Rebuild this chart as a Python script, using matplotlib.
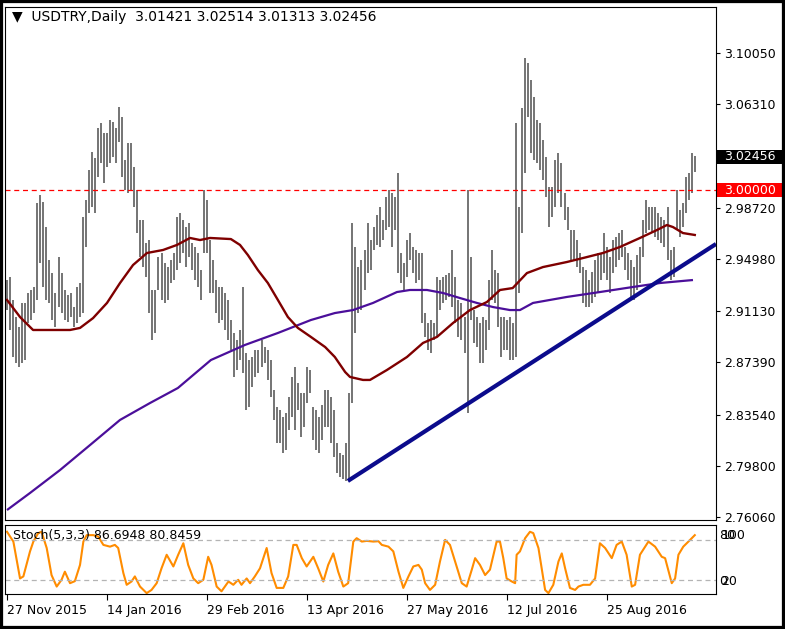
import matplotlib.pyplot as plt
from matplotlib.patches import Rectangle
from matplotlib.transforms import blended_transform_factory

# daily bars (high / low), one per trading day starting 27 Nov 2015
high = [2.9342, 2.9364, 2.9196, 2.9071, 2.8998, 2.9174, 2.9174, 2.9247, 2.9269, 2.9291,
        2.9906, 2.9965, 2.9913, 2.9730, 2.9489, 2.9393, 2.9247, 2.9511, 2.9393, 2.9269,
        2.9232, 2.9247, 2.9144, 2.9291, 2.9320, 2.9803, 2.9928, 3.0148, 3.0280, 3.0236,
        3.0455, 3.0492, 3.0419, 3.0419, 3.0514, 3.0499, 3.0455, 3.0609, 3.0536, 3.0221,
        3.0346, 3.0346, 3.0170, 3.0001, 2.9781, 2.9781, 2.9613, 2.9635, 2.9269, 2.9269,
        2.9511, 2.9540, 2.9467, 2.9437, 2.9489, 2.9540, 2.9803, 2.9833, 2.9781, 2.9730,
        2.9759, 2.9613, 2.9584, 2.9540, 2.9415, 3.0001, 2.9928, 2.9635, 2.9489, 2.9342,
        2.9291, 2.9291, 2.9247, 2.9196, 2.9049, 2.8954, 2.8903, 2.8976, 2.9291, 2.8807,
        2.8756, 2.8778, 2.8829, 2.8829, 2.8903, 2.8851, 2.8829, 2.8756, 2.8536, 2.8412,
        2.8390, 2.8339, 2.8368, 2.8485, 2.8632, 2.8705, 2.8588, 2.8514, 2.8514, 2.8705,
        2.8683, 2.8412, 2.8390, 2.8339, 2.8426, 2.8536, 2.8536, 2.8485, 2.8390, 2.8148,
        2.8075, 2.8060, 2.8148, 2.8514, 2.9759, 2.9584, 2.9437, 2.9489, 2.9562, 2.9759,
        2.9635, 2.9730, 2.9818, 2.9877, 2.9781, 2.9950, 3.0001, 2.9979, 2.9950, 3.0126,
        2.9540, 2.9467, 2.9635, 2.9686, 2.9584, 2.9562, 2.9540, 2.9540, 2.9100, 2.9027,
        2.9049, 2.9027, 2.9364, 2.9342, 2.9364, 2.9379, 2.9393, 2.9562, 2.9364, 2.9196,
        2.9174, 2.9071, 3.0001, 2.9511, 2.9122, 2.9071, 2.9027, 2.9071, 2.9049, 2.9342,
        2.9562, 2.9415, 2.9393, 2.9071, 2.9071, 2.9049, 2.9071, 2.9027, 3.0492, 2.9877,
        3.0602, 3.0968, 3.0932, 3.0807, 3.0682, 3.0514, 3.0492, 3.0368, 3.0243, 3.0023,
        3.0023, 3.0221, 3.0272, 3.0199, 2.9979, 2.9877, 2.9708, 2.9708, 2.9635, 2.9540,
        2.9437, 2.9415, 2.9342, 2.9401, 2.9489, 2.9540, 2.9540, 2.9686, 2.9584, 2.9511,
        2.9635, 2.9657, 2.9686, 2.9708, 2.9584, 2.9540, 2.9489, 2.9437, 2.9525, 2.9584,
        2.9781, 2.9928, 2.9877, 2.9877, 2.9877, 2.9833, 2.9803, 2.9781, 2.9877, 2.9562,
        2.9584, 3.0001, 2.9855, 2.9906, 3.0097, 3.0126, 3.0272, 3.02514]
low = [2.9122, 2.8976, 2.8778, 2.8734, 2.8705, 2.8734, 2.8756, 2.9027, 2.9049, 2.9100,
       2.9196, 2.9467, 2.9291, 2.9196, 2.9174, 2.9049, 2.8998, 2.9144, 2.9100, 2.9049,
       2.9034, 2.9071, 2.8998, 2.9027, 2.9071, 2.9100, 2.9584, 2.9833, 2.9877, 2.9833,
       3.0097, 3.0199, 3.0053, 3.0170, 3.0199, 3.0243, 3.0199, 3.0353, 3.0097, 3.0001,
       2.9979, 3.0001, 2.9877, 2.9686, 2.9511, 2.9437, 2.9364, 2.9100, 2.8903, 2.8954,
       2.9269, 2.9196, 2.9174, 2.9196, 2.9320, 2.9342, 2.9415, 2.9467, 2.9540, 2.9437,
       2.9511, 2.9415, 2.9342, 2.9291, 2.9196, 2.9540, 2.9540, 2.9247, 2.9247, 2.9100,
       2.9027, 2.9049, 2.8976, 2.8903, 2.8829, 2.8632, 2.8683, 2.8756, 2.8661, 2.8390,
       2.8412, 2.8558, 2.8632, 2.8661, 2.8705, 2.8734, 2.8610, 2.8485, 2.8317, 2.8148,
       2.8148, 2.8075, 2.8097, 2.8243, 2.8339, 2.8243, 2.8390, 2.8192, 2.8265, 2.8441,
       2.8514, 2.8170, 2.8097, 2.8075, 2.8170, 2.8265, 2.8265, 2.8148, 2.8046, 2.7928,
       2.7899, 2.7884, 2.7870, 2.7877, 2.8441, 2.8954, 2.9100, 2.9122, 2.9269, 2.9393,
       2.9415, 2.9562, 2.9599, 2.9584, 2.9635, 2.9708, 2.9730, 2.9584, 2.9708, 2.9393,
       2.9320, 2.9269, 2.9364, 2.9489, 2.9393, 2.9320, 2.9342, 2.9027, 2.8925, 2.8829,
       2.8807, 2.8903, 2.8925, 2.9122, 2.9174, 2.9196, 2.9218, 2.9144, 2.9027, 2.8925,
       2.8903, 2.8807, 2.8368, 2.9049, 2.8881, 2.8851, 2.8734, 2.8734, 2.8829, 2.8976,
       2.9196, 2.9174, 2.8998, 2.8778, 2.8829, 2.8829, 2.8756, 2.8756, 2.8778, 2.9247,
       2.9686, 3.0126, 3.0536, 3.0272, 3.0221, 3.0199, 3.0148, 3.0075, 2.9950, 2.9730,
       2.9803, 2.9877, 2.9979, 2.9877, 2.9781, 2.9708, 2.9489, 2.9489, 2.9437, 2.9393,
       2.9174, 2.9144, 2.9144, 2.9174, 2.9218, 2.9247, 2.9342, 2.9393, 2.9342, 2.9247,
       2.9393, 2.9437, 2.9489, 2.9511, 2.9415, 2.9342, 2.9218, 2.9196, 2.9269, 2.9320,
       2.9511, 2.9686, 2.9708, 2.9686, 2.9657, 2.9635, 2.9613, 2.9584, 2.9489, 2.9342,
       2.9364, 2.9708, 2.9657, 2.9730, 2.9833, 2.9928, 2.9979, 3.01313]

# moving averages, read at a few bar positions
ma_fast_bar = [0, 4.3, 8.6, 14.2, 20.8, 24.1, 28.4, 33, 37.3, 41.6, 46.2, 51.5, 56.1, 60.4,
               63.7, 67, 73.9, 76.9, 79.5, 82.8, 86.1, 89.4, 92.7, 96, 100.3, 105, 108.2,
               111.6, 113.2, 117.5, 119.8, 125.4, 132, 137.3, 141.9, 147.2, 152.8, 158.4,
               162.7, 166.9, 171.6, 176.9, 184.8, 190.1, 196.7, 202.3, 208.9, 214.5, 217.8,
               219.8, 223.1, 227]
ma_fast = [2.9196, 2.9071, 2.8976, 2.8976, 2.8976, 2.8991, 2.9063, 2.9174, 2.9320, 2.9452,
           2.9540, 2.9562, 2.9599, 2.9650, 2.9635, 2.9650, 2.9642, 2.9599, 2.9525, 2.9415,
           2.9320, 2.9196, 2.9071, 2.8991, 2.8925, 2.8851, 2.8778, 2.8668, 2.8632, 2.8610,
           2.8610, 2.8683, 2.8778, 2.8881, 2.8925, 2.9027, 2.9122, 2.9181, 2.9269, 2.9283,
           2.9393, 2.9437, 2.9474, 2.9503, 2.9540, 2.9584, 2.9650, 2.9708, 2.9745, 2.9730,
           2.9686, 2.9672]
ma_slow_bar = [0, 7.6, 17.5, 27.4, 37.3, 47.2, 56.4, 67.3, 78.5, 89.4, 100.3, 108.2, 114.2,
               120.8, 128.7, 133, 138.6, 143.9, 149.5, 155.1, 160.4, 166, 169.3, 173.6,
               184.8, 195.7, 206.6, 215.5, 226.4]
ma_slow = [2.7657, 2.7782, 2.7950, 2.8133, 2.8317, 2.8441, 2.8551, 2.8756, 2.8866, 2.8954,
           2.9049, 2.9100, 2.9122, 2.9174, 2.9254, 2.9269, 2.9269, 2.9247, 2.9210, 2.9174,
           2.9144, 2.9122, 2.9122, 2.9174, 2.9218, 2.9254, 2.9291, 2.9320, 2.9342]

# trend line anchors (bar position, price)
trend_bar = [112.5, 234.0]
trend_price = [2.7870, 2.9606]

# stochastic %K
stoch_bar = [0, 2.1, 4.3, 5.4, 7.6, 8.7, 10.3, 11.4, 13.1, 14.7, 16.4, 18.0, 19.1, 20.8,
             22.4, 24.1, 25.2, 26.3, 28.5, 30.1, 31.8, 34.0, 35.6, 36.7, 38.4, 39.5, 41.1,
             42.2, 43.9, 46.1, 47.7, 49.4, 51.0, 52.7, 54.9, 56.5, 58.2, 59.8, 61.5, 63.1,
             64.8, 66.4, 67.5, 69.2, 70.8, 73.1, 74.7, 76.3, 77.4, 79.1, 80.2, 81.8, 83.5,
             85.7, 87.3, 89.0, 91.2, 92.8, 94.5, 95.6, 97.3, 98.9, 101.1, 102.7, 104.4,
             106.0, 107.7, 109.3, 111.0, 112.6, 114.3, 115.4, 117.1, 118.7, 120.9, 122.6,
             123.7, 125.9, 127.5, 129.2, 130.8, 132.5, 134.1, 135.8, 136.9, 138.0, 139.6,
             141.3, 142.9, 144.6, 146.2, 147.9, 150.1, 151.7, 153.4, 154.5, 156.1, 157.8,
             159.4, 161.6, 162.7, 163.8, 164.9, 166.6, 167.7, 168.2, 169.3, 171.0, 172.6,
             173.7, 175.4, 177.6, 178.7, 180.3, 182.0, 183.1, 184.2, 185.8, 187.5, 188.6,
             190.2, 192.4, 194.1, 195.7, 197.4, 199.6, 201.2, 202.9, 204.5, 206.2, 207.3,
             208.9, 211.7, 213.9, 216.1, 217.2, 219.4, 220.5, 221.6, 223.2, 224.9, 227.0]
stoch_val = [92, 77.5, 23, 26, 63, 77.5, 90, 92, 68, 28, 11, 21, 33, 16,
             19, 43, 77.5, 87, 87, 85, 72.6, 70, 72.6, 68, 31, 13.6, 18.5,
             26, 11, 1.3, 6, 16, 38, 58, 40.7, 58, 75, 43, 23, 16,
             21, 55, 43, 11, 4, 18.5, 13.6, 21, 13.6, 23, 16, 26, 38,
             68, 31, 9, 9, 26, 72.6, 72.6, 53, 40.7, 55, 38, 18.5,
             43, 60, 33, 11, 16, 77.5, 82.5, 77.5, 78.5, 77.5, 78,
             72.6, 70, 63, 33, 9, 26, 40.7, 43, 36, 16, 6,
             13.6, 48, 80, 72.6, 48, 16, 11, 36, 53, 43, 28,
             36, 77.5, 77.5, 53, 23, 18.5, 16, 58, 63, 82.5, 92,
             90, 68, 6, 1.3, 13.6, 48, 60, 38, 9, 6, 11,
             13.6, 13.6, 23, 75, 68, 53, 72.6, 77.5, 58, 11, 13.6,
             58, 77.5, 70, 55, 53, 16, 23, 58, 70, 77.5, 87]

tick_bars = [0, 33, 66, 99, 132, 165, 198]
tick_labels = ['27 Nov 2015', '14 Jan 2016', '29 Feb 2016', '13 Apr 2016',
               '27 May 2016', '12 Jul 2016', '25 Aug 2016']
price_ticks = [3.10050, 3.06310, 2.98720, 2.94980, 2.91130, 2.87390, 2.83540, 2.79800, 2.76060]
last_price = 3.02456
level_price = 3.00000

W, H = 785, 629
fig = plt.figure(figsize=(W / 100, H / 100), dpi=100)
fig.patch.set_facecolor('white')
plt.rcParams['font.family'] = 'DejaVu Sans'


def box(l, t, r, b):
    return [l / W, 1 - b / H, (r - l) / W, (b - t) / H]


ax = fig.add_axes(box(5, 7, 716, 520))
ax2 = fig.add_axes(box(5, 525, 716, 594))

xs = list(range(len(high)))
ax.vlines(xs, low, high, color='#5c5c5c', lw=1.2)
ax.plot(ma_slow_bar, ma_slow, color='#4b0f9a', lw=1.6, solid_capstyle='butt')
ax.plot(ma_fast_bar, ma_fast, color='#7f0000', lw=1.7)
ax.plot(trend_bar, trend_price, color='#0b0b8c', lw=3.0, solid_capstyle='butt')
ax.axhline(level_price, color='red', lw=0.9, dashes=(4, 3))

ax.set_xlim(-0.66, 234.0)
ax.set_ylim(2.7584, 3.1342)
ax.set_xticks([])
ax.set_yticks(price_ticks)
ax.set_yticklabels(['%.5f' % p for p in price_ticks])
ax.tick_params(axis='y', left=False, labelleft=False, right=True, labelright=True,
               direction='out', length=3, width=0.8, pad=3, labelsize=9, colors='black')
for s in ax.spines.values():
    s.set_color('black')
    s.set_linewidth(0.8)

# price label boxes on the right scale
tr = blended_transform_factory(ax.transAxes, ax.transData)
for price, fc, w in [(last_price, 'black', 0.1), (level_price, '#ff0000', 0.093)]:
    ax.add_patch(Rectangle((1.001, price - 0.0051), w, 0.0102, transform=tr,
                           fc=fc, ec='none', clip_on=False))
    ax.text(1.011, price, '%.5f' % price, transform=tr, color='white', fontsize=9,
            va='center', ha='left', clip_on=False)

ax2.plot(stoch_bar, stoch_val, color='#ff8c00', lw=1.5)
for lvl in (80, 20):
    ax2.axhline(lvl, color='#b4b4b4', lw=0.9, dashes=(4, 3))
ax2.set_xlim(-0.66, 234.0)
ax2.set_ylim(0, 102)
ax2.set_yticks([])
ax2.set_xticks(tick_bars)
ax2.set_xticklabels(tick_labels, ha='left')
ax2.tick_params(axis='x', direction='out', length=4, width=0.8, pad=3, labelsize=9)
for s in ax2.spines.values():
    s.set_color('black')
    s.set_linewidth(0.8)
tr2 = blended_transform_factory(ax2.transAxes, ax2.transData)
for lbl, xo, yv in [('80', 1.005, 86), ('100', 1.008, 86), ('20', 1.007, 18), ('0', 1.005, 18)]:
    ax2.text(xo, yv, lbl, transform=tr2, fontsize=9, va='center', ha='left', clip_on=False)
ax2.text(0.011, 86, 'Stoch(5,3,3) 86.6948 80.8459', transform=tr2, fontsize=9,
         va='center', ha='left')

fig.text(12 / W, 1 - 17 / H, '\u25bc  USDTRY,Daily  3.01421 3.02514 3.01313 3.02456',
         fontsize=10, va='center', ha='left')

fig.add_artist(Rectangle((0, 0), 1, 1, transform=fig.transFigure, fill=False,
                         ec='black', lw=4.5))

fig.savefig('out.png', dpi=100)
